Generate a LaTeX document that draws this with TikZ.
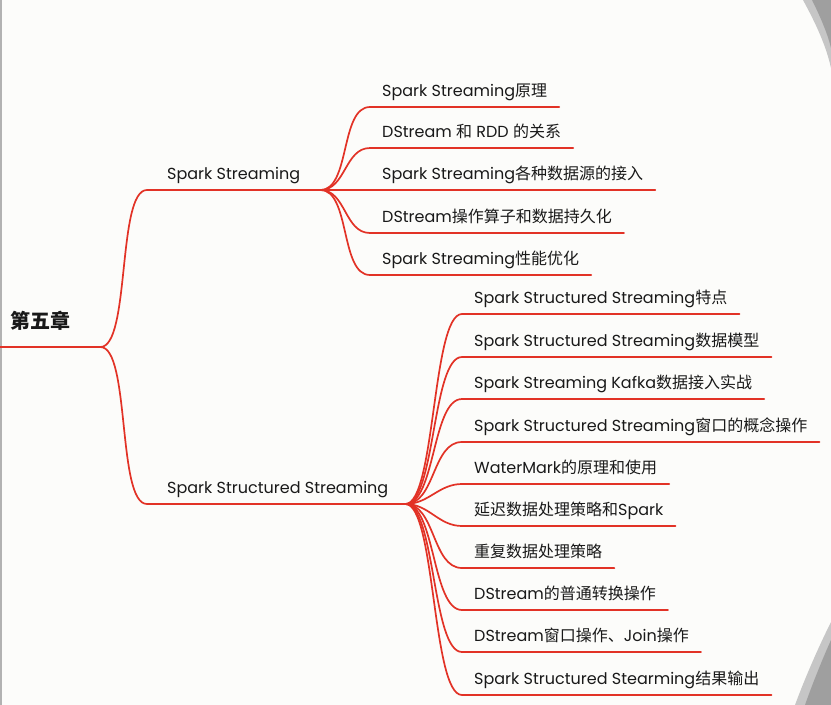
\documentclass[tikz,border=0pt]{standalone}
\usepackage{fontspec}
\setmainfont{Poppins}
\newfontfamily\cjk{Noto Sans CJK SC}
\usepackage{xcolor}
\usepackage{tikz}
\definecolor{linkred}{RGB}{226,50,38}
\definecolor{ink}{RGB}{25,25,25}
\definecolor{paper}{RGB}{252,252,250}

\begin{document}
\begin{tikzpicture}[
    x=1pt, y=-1pt,
    link/.style={draw=linkred, line width=1.7pt, line cap=round},
    branchcurve/.style={out=0, in=180, out max distance=30pt, in max distance=30pt},
    topic/.style={anchor=south west, inner xsep=12pt, inner ysep=10pt, text depth=0pt, text=ink, font=\fontsize{16}{19}\selectfont},
    branch/.style={topic, inner xsep=20pt},
    rootbox/.style={anchor=south west, inner xsep=10pt, inner ysep=18pt, text width=80pt, text depth=0pt, align=left, text=ink, font=\fontsize{20}{24}\selectfont\cjk\bfseries}
]

% Page
\fill[paper] (0,0) rectangle (831,705);
\useasboundingbox (0,0) rectangle (831,705);
\draw[gray!60, line width=1.5pt] (0.75,0) -- (0.75,705);

% Screen corners
\fill[gray!45] (803,0) .. controls (815,22) and (826,45) .. (831,68) -- (831,0) -- cycle;
\fill[gray!75] (812,0) .. controls (821,18) and (828,35) .. (831,48) -- (831,0) -- cycle;
\fill[gray!45] (831,622) .. controls (818,648) and (805,678) .. (795,705) -- (831,705) -- cycle;
\fill[gray!75] (831,640) .. controls (822,660) and (812,685) .. (805,705) -- (831,705) -- cycle;

% Root and branches
\node[rootbox] (root) at (0,347) {第五章};
\node[branch] (stream) at (147,190) {\makebox[133pt][l]{Spark Streaming}};
\node[branch] (structured) at (147,504) {\makebox[218pt][l]{Spark Structured Streaming}};

% Spark Streaming topics
\node[topic] (ss-principle) at (370,107) {Spark Streaming{\cjk 原理}};
\node[topic] (ss-rdd) at (370,148) {DStream {\cjk 和} RDD {\cjk 的关系}};
\node[topic] (ss-source) at (370,190) {Spark Streaming{\cjk 各种数据源的接入}};
\node[topic] (ss-operator) at (370,233) {DStream{\cjk 操作算子和数据持久化}};
\node[topic] (ss-tuning) at (370,275) {Spark Streaming{\cjk 性能优化}};

% Spark Structured Streaming topics
\node[topic] (sst-feature) at (462,314) {Spark Structured Streaming{\cjk 特点}};
\node[topic] (sst-model) at (462,357) {Spark Structured Streaming{\cjk 数据模型}};
\node[topic] (sst-kafka) at (462,399) {Spark Streaming Kafka{\cjk 数据接入实战}};
\node[topic] (sst-window) at (462,442) {Spark Structured Streaming{\cjk 窗口的概念操作}};
\node[topic] (sst-watermark) at (462,484) {WaterMark{\cjk 的原理和使用}};
\node[topic] (sst-late) at (462,526) {{\cjk 延迟数据处理策略和}Spark};
\node[topic] (sst-dup) at (462,568) {{\cjk 重复数据处理策略}};
\node[topic] (sst-transform) at (462,610) {DStream{\cjk 的普通转换操作}};
\node[topic] (sst-join) at (462,652) {DStream{\cjk 窗口操作、}Join{\cjk 操作}};
\node[topic] (sst-output) at (462,695) {Spark Structured Stearming{\cjk 结果输出}};

% Trunk
\draw[link] (root.south west) -- (root.south east) to[branchcurve] (stream.south west) -- (stream.south east);
\draw[link] (root.south east) to[branchcurve] (structured.south west) -- (structured.south east);

% Spark Streaming links
\draw[link] (stream.south east) to[branchcurve] (ss-principle.south west) -- (ss-principle.south east);
\draw[link] (stream.south east) to[branchcurve] (ss-rdd.south west) -- (ss-rdd.south east);
\draw[link] (stream.south east) to[branchcurve] (ss-source.south west) -- (ss-source.south east);
\draw[link] (stream.south east) to[branchcurve] (ss-operator.south west) -- (ss-operator.south east);
\draw[link] (stream.south east) to[branchcurve] (ss-tuning.south west) -- (ss-tuning.south east);

% Spark Structured Streaming links
\draw[link] (structured.south east) to[branchcurve] (sst-feature.south west) -- (sst-feature.south east);
\draw[link] (structured.south east) to[branchcurve] (sst-model.south west) -- (sst-model.south east);
\draw[link] (structured.south east) to[branchcurve] (sst-kafka.south west) -- (sst-kafka.south east);
\draw[link] (structured.south east) to[branchcurve] (sst-window.south west) -- (sst-window.south east);
\draw[link] (structured.south east) to[branchcurve] (sst-watermark.south west) -- (sst-watermark.south east);
\draw[link] (structured.south east) to[branchcurve] (sst-late.south west) -- (sst-late.south east);
\draw[link] (structured.south east) to[branchcurve] (sst-dup.south west) -- (sst-dup.south east);
\draw[link] (structured.south east) to[branchcurve] (sst-transform.south west) -- (sst-transform.south east);
\draw[link] (structured.south east) to[branchcurve] (sst-join.south west) -- (sst-join.south east);
\draw[link] (structured.south east) to[branchcurve] (sst-output.south west) -- (sst-output.south east);

\end{tikzpicture}
\end{document}
